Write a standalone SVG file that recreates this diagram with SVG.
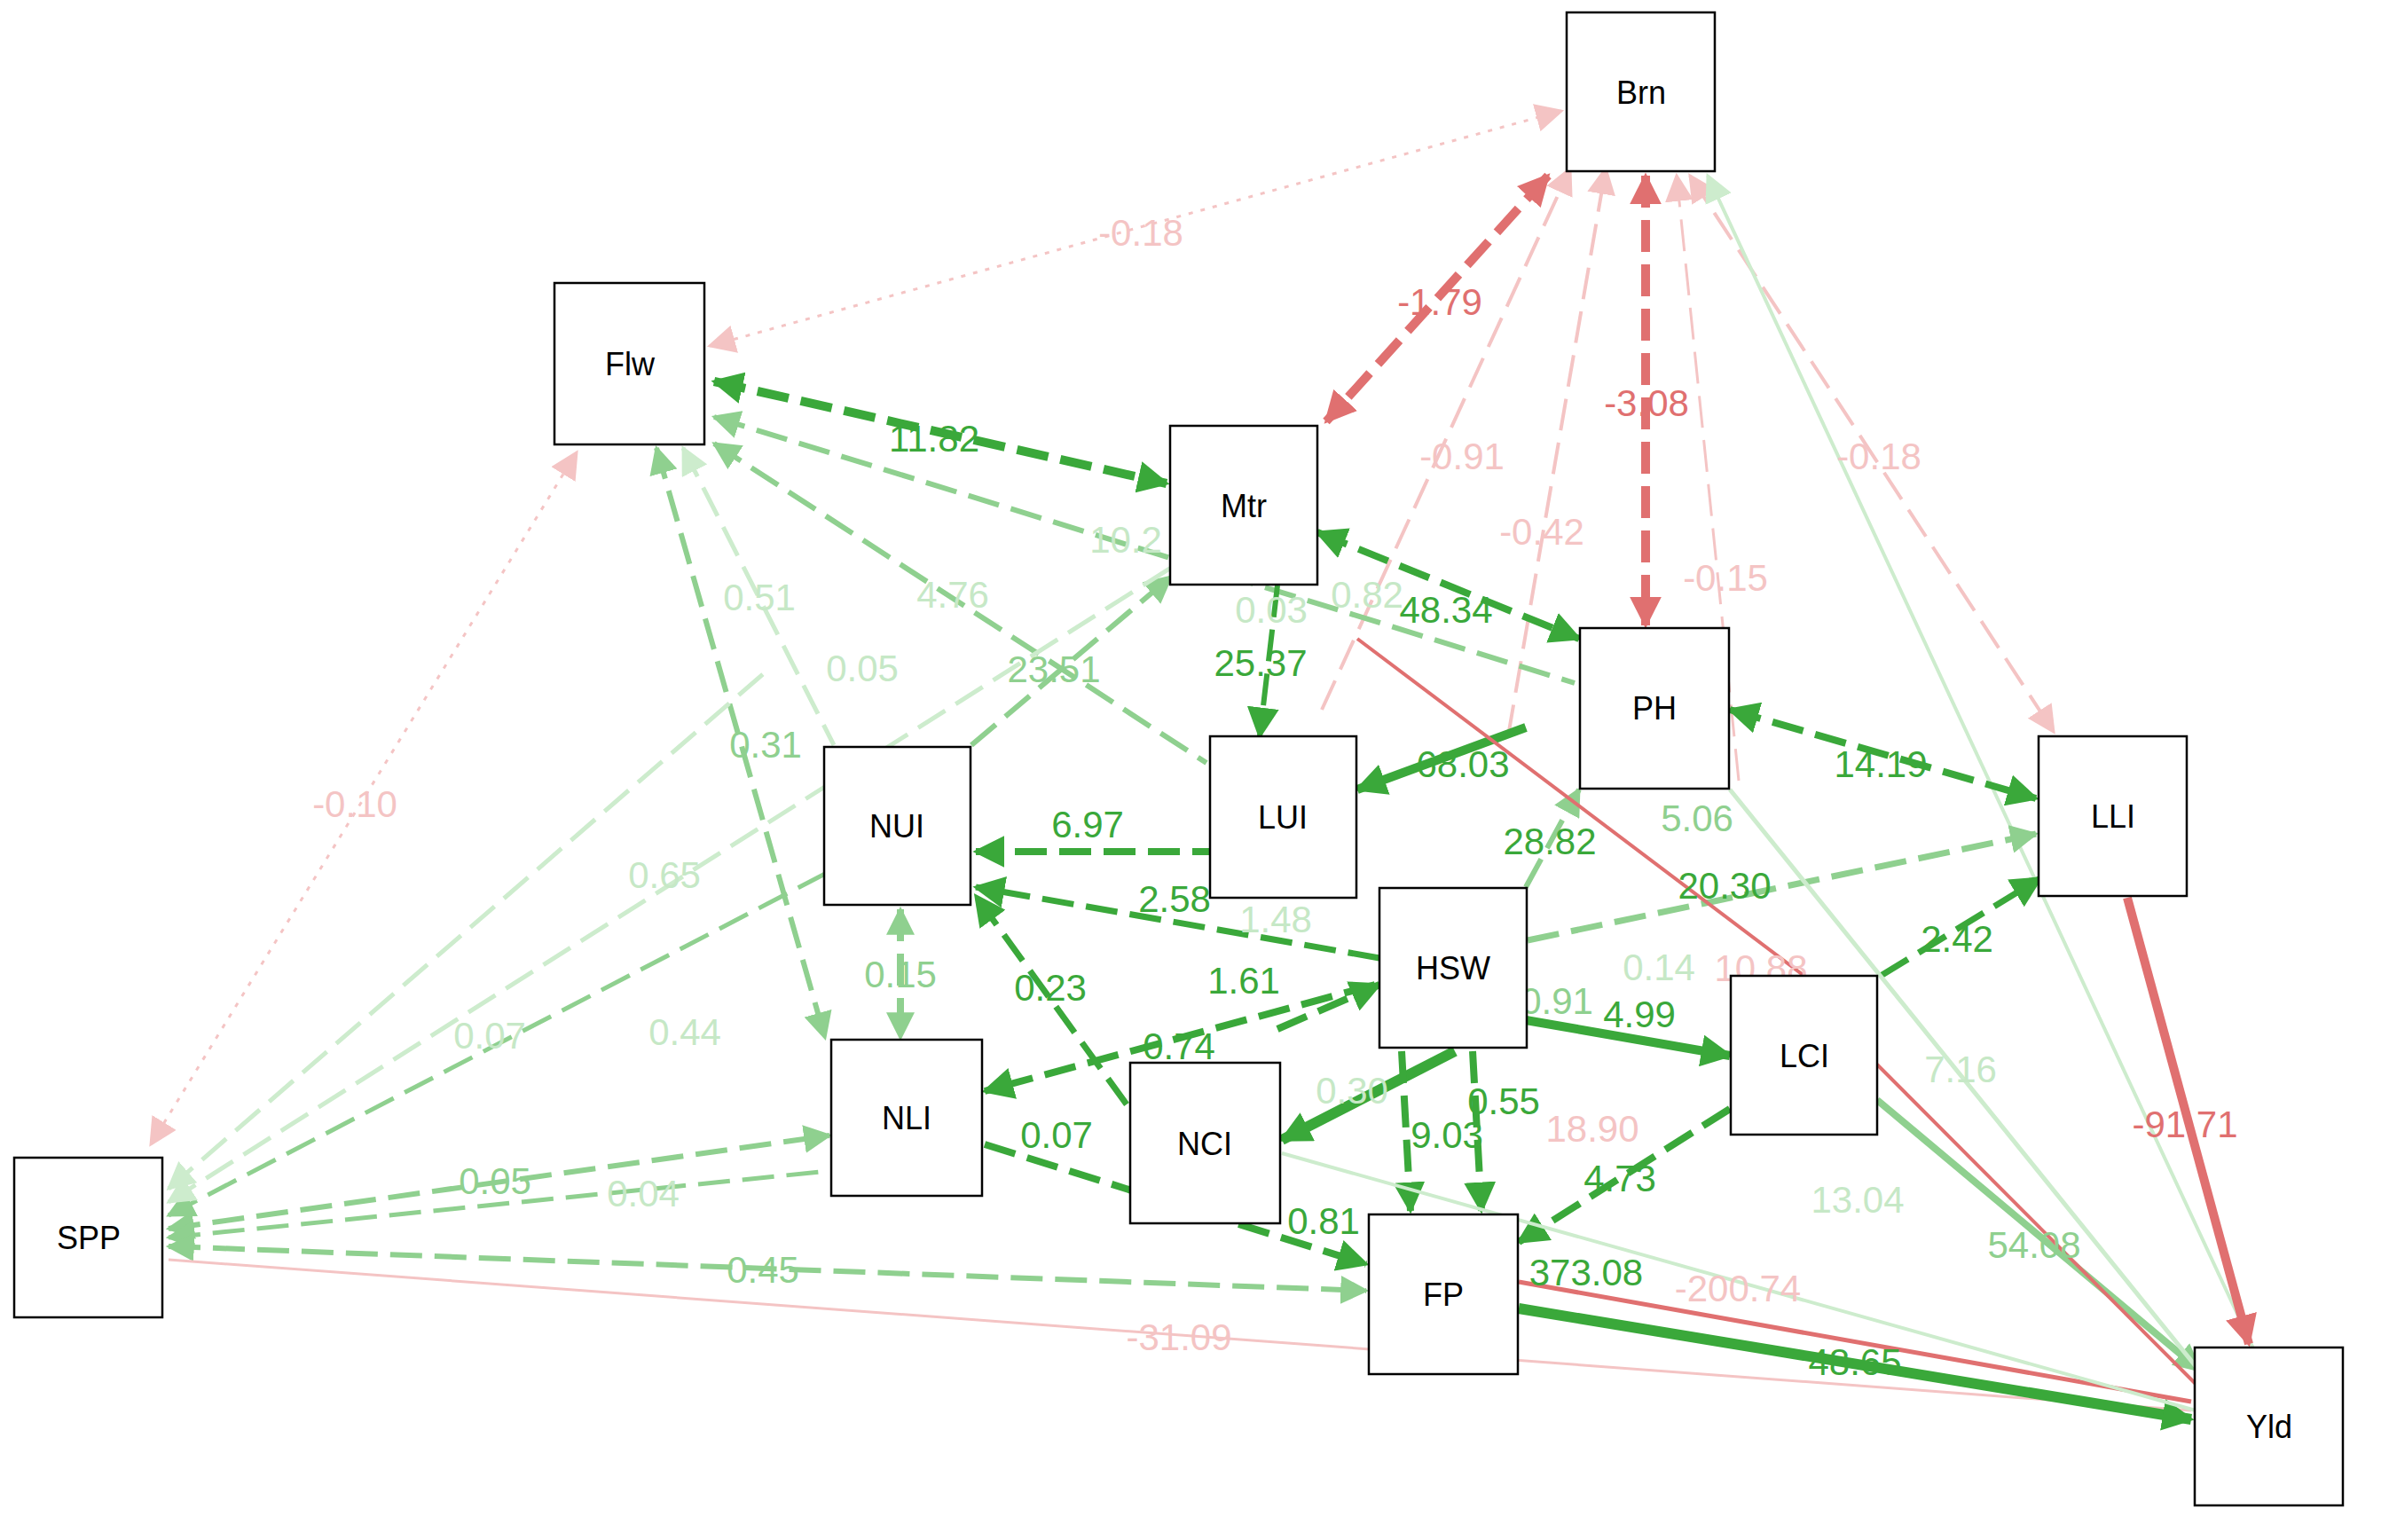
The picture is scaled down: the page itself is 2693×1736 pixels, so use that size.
<svg xmlns="http://www.w3.org/2000/svg" width="2693" height="1736" viewBox="0 0 2693 1736">
<style>
.n rect{fill:#fff;stroke:#000;stroke-width:2.5}
.n text{font-family:"Liberation Sans",Arial,sans-serif;font-size:36px;text-anchor:middle;dominant-baseline:central;fill:#000}
.e line{fill:none}
.g{stroke:#3aa83a}.g2{stroke:#8fd08f}.g3{stroke:#cdeccd}
.r{stroke:#e07070}.p{stroke:#f4c4c4}
.d{stroke-dasharray:36 14}.t{stroke-dasharray:5 9}
.l text{font-family:"Liberation Sans",Arial,sans-serif;font-size:42px;text-anchor:middle;dominant-baseline:central}
.lg{fill:#3aa83a}.lg2{fill:#8fd08f}.lg3{fill:#c6e8c6}.lr{fill:#e07070}.lp{fill:#f4c4c4}
</style>
<defs>
<marker id="ag" viewBox="0 0 10 10" refX="9" refY="5" markerWidth="36" markerHeight="36" markerUnits="userSpaceOnUse" orient="auto-start-reverse"><path d="M0,0L10,5L0,10z" fill="#3aa83a"/></marker>
<marker id="ag2" viewBox="0 0 10 10" refX="9" refY="5" markerWidth="32" markerHeight="32" markerUnits="userSpaceOnUse" orient="auto-start-reverse"><path d="M0,0L10,5L0,10z" fill="#8fd08f"/></marker>
<marker id="ag3" viewBox="0 0 10 10" refX="9" refY="5" markerWidth="32" markerHeight="32" markerUnits="userSpaceOnUse" orient="auto-start-reverse"><path d="M0,0L10,5L0,10z" fill="#cdeccd"/></marker>
<marker id="ar" viewBox="0 0 10 10" refX="9" refY="5" markerWidth="36" markerHeight="36" markerUnits="userSpaceOnUse" orient="auto-start-reverse"><path d="M0,0L10,5L0,10z" fill="#e07070"/></marker>
<marker id="ap" viewBox="0 0 10 10" refX="9" refY="5" markerWidth="32" markerHeight="32" markerUnits="userSpaceOnUse" orient="auto-start-reverse"><path d="M0,0L10,5L0,10z" fill="#f4c4c4"/></marker>
</defs>
<rect width="2693" height="1736" fill="#fff"/>
<g id="connectors" class="e">
<line class="p t" x1="800" y1="390" x2="1760" y2="125" stroke-width="3" marker-start="url(#ap)" marker-end="url(#ap)"/>
<line class="p t" x1="170" y1="1290" x2="650" y2="510" stroke-width="3" marker-start="url(#ap)" marker-end="url(#ap)"/>
<line class="r d" x1="1745" y1="198" x2="1495" y2="475" stroke-width="10" marker-start="url(#ar)" marker-end="url(#ar)"/>
<line class="r d" x1="1855" y1="198" x2="1855" y2="705" stroke-width="10" marker-start="url(#ar)" marker-end="url(#ar)"/>
<line class="p d" x1="1905" y1="198" x2="2315" y2="825" stroke-width="4" marker-start="url(#ap)" marker-end="url(#ap)"/>
<line class="p d" x1="1490" y1="800" x2="1770" y2="190" stroke-width="4" marker-end="url(#ap)"/>
<line class="p d" x1="1700" y1="830" x2="1810" y2="190" stroke-width="4" marker-end="url(#ap)"/>
<line class="p d" x1="1960" y1="880" x2="1890" y2="198" stroke-width="3" marker-end="url(#ap)"/>
<line class="g3" x1="2540" y1="1520" x2="1925" y2="198" stroke-width="4" marker-end="url(#ag3)"/>
<line class="g d" x1="805" y1="430" x2="1315" y2="545" stroke-width="10" marker-start="url(#ag)" marker-end="url(#ag)"/>
<line class="g2 d" x1="805" y1="470" x2="1775" y2="770" stroke-width="6" marker-start="url(#ag2)"/>
<line class="g2 d" x1="805" y1="500" x2="1360" y2="860" stroke-width="6" marker-start="url(#ag2)"/>
<line class="g2 d" x1="740" y1="505" x2="930" y2="1170" stroke-width="6" marker-start="url(#ag2)" marker-end="url(#ag2)"/>
<line class="g3 d" x1="770" y1="505" x2="940" y2="840" stroke-width="5" marker-start="url(#ag3)"/>
<line class="g2 d" x1="1095" y1="840" x2="1320" y2="650" stroke-width="6" marker-end="url(#ag2)"/>
<line class="g d" x1="1440" y1="660" x2="1420" y2="830" stroke-width="6" marker-end="url(#ag)"/>
<line class="g d" x1="1485" y1="600" x2="1780" y2="720" stroke-width="8" marker-start="url(#ag)" marker-end="url(#ag)"/>
<line class="g" x1="1720" y1="820" x2="1530" y2="890" stroke-width="10" marker-end="url(#ag)"/>
<line class="g d" x1="1950" y1="800" x2="2295" y2="900" stroke-width="8" marker-start="url(#ag)" marker-end="url(#ag)"/>
<line class="g2 d" x1="1722" y1="1060" x2="2295" y2="940" stroke-width="7" marker-end="url(#ag2)"/>
<line class="g2 d" x1="1720" y1="1000" x2="1780" y2="890" stroke-width="6" marker-end="url(#ag2)"/>
<line class="g d" x1="2120" y1="1100" x2="2300" y2="990" stroke-width="7" marker-end="url(#ag)"/>
<line class="g" x1="1720" y1="1150" x2="1950" y2="1190" stroke-width="10" marker-end="url(#ag)"/>
<line class="g d" x1="1530" y1="960" x2="1100" y2="960" stroke-width="8" marker-end="url(#ag)"/>
<line class="g d" x1="1555" y1="1080" x2="1100" y2="1000" stroke-width="7" marker-end="url(#ag)"/>
<line class="g d" x1="1550" y1="1110" x2="1110" y2="1230" stroke-width="8" marker-end="url(#ag)"/>
<line class="g d" x1="1270" y1="1245" x2="1100" y2="1010" stroke-width="7" marker-end="url(#ag)"/>
<line class="g d" x1="1440" y1="1160" x2="1555" y2="1110" stroke-width="8" marker-end="url(#ag)"/>
<line class="g" x1="1640" y1="1185" x2="1445" y2="1285" stroke-width="12" marker-end="url(#ag)"/>
<line class="g d" x1="1580" y1="1185" x2="1590" y2="1365" stroke-width="8" marker-end="url(#ag)"/>
<line class="g d" x1="1660" y1="1185" x2="1670" y2="1365" stroke-width="8" marker-end="url(#ag)"/>
<line class="g d" x1="1950" y1="1250" x2="1712" y2="1400" stroke-width="8" marker-end="url(#ag)"/>
<line class="g d" x1="1110" y1="1290" x2="1540" y2="1425" stroke-width="8" marker-end="url(#ag)"/>
<line class="g2 d" x1="1015" y1="1025" x2="1015" y2="1170" stroke-width="8" marker-start="url(#ag2)" marker-end="url(#ag2)"/>
<line class="g2 d" x1="190" y1="1385" x2="935" y2="1280" stroke-width="6" marker-start="url(#ag2)" marker-end="url(#ag2)"/>
<line class="g2 d" x1="190" y1="1370" x2="930" y2="985" stroke-width="5" marker-start="url(#ag2)"/>
<line class="g3 d" x1="190" y1="1355" x2="1320" y2="640" stroke-width="5" marker-start="url(#ag3)"/>
<line class="g3 d" x1="190" y1="1340" x2="860" y2="760" stroke-width="5" marker-start="url(#ag3)"/>
<line class="g2 d" x1="190" y1="1395" x2="935" y2="1320" stroke-width="5" marker-start="url(#ag2)"/>
<line class="g2 d" x1="190" y1="1405" x2="1540" y2="1455" stroke-width="6" marker-start="url(#ag2)" marker-end="url(#ag2)"/>
<line class="p" x1="190" y1="1420" x2="2470" y2="1590" stroke-width="3"/>
<line class="g" x1="1712" y1="1475" x2="2470" y2="1600" stroke-width="12" marker-end="url(#ag)"/>
<line class="r" x1="1712" y1="1445" x2="2470" y2="1580" stroke-width="5"/>
<line class="r" x1="2398" y1="1012" x2="2535" y2="1515" stroke-width="10" marker-end="url(#ar)"/>
<line class="g2" x1="2116" y1="1240" x2="2480" y2="1545" stroke-width="8" marker-end="url(#ag2)"/>
<line class="r" x1="2116" y1="1200" x2="2475" y2="1560" stroke-width="4"/>
<line class="g3" x1="1950" y1="890" x2="2475" y2="1540" stroke-width="5"/>
<line class="g3" x1="1445" y1="1300" x2="2475" y2="1590" stroke-width="4"/>
<line class="r" x1="1530" y1="720" x2="2100" y2="1150" stroke-width="4"/>
</g>
<g class="l">
<text x="1286" y="262" class="lp">-0.18</text>
<text x="400" y="906" class="lp">-0.10</text>
<text x="1623" y="340" class="lr">-1.79</text>
<text x="1856" y="454" class="lr">-3.08</text>
<text x="2118" y="514" class="lp">-0.18</text>
<text x="1648" y="514" class="lp">-0.91</text>
<text x="1738" y="599" class="lp">-0.42</text>
<text x="1945" y="651" class="lp">-0.15</text>
<text x="1053" y="494" class="lg">11.82</text>
<text x="1269" y="608" class="lg3">10.2</text>
<text x="1074" y="670" class="lg3">4.76</text>
<text x="856" y="673" class="lg3">0.51</text>
<text x="972" y="753" class="lg3">0.05</text>
<text x="1188" y="754" class="lg2">23.51</text>
<text x="863" y="839" class="lg2">0.31</text>
<text x="749" y="986" class="lg3">0.65</text>
<text x="552" y="1167" class="lg3">0.07</text>
<text x="772" y="1163" class="lg3">0.44</text>
<text x="558" y="1331" class="lg2">0.05</text>
<text x="725" y="1345" class="lg3">0.04</text>
<text x="860" y="1431" class="lg2">0.45</text>
<text x="1329" y="1507" class="lp">-31.09</text>
<text x="1015" y="1098" class="lg2">0.15</text>
<text x="1184" y="1113" class="lg">0.23</text>
<text x="1191" y="1279" class="lg">0.07</text>
<text x="1226" y="929" class="lg">6.97</text>
<text x="1421" y="747" class="lg">25.37</text>
<text x="1433" y="687" class="lg3">0.03</text>
<text x="1541" y="670" class="lg3">0.82</text>
<text x="1630" y="687" class="lg">48.34</text>
<text x="1649" y="861" class="lg">68.03</text>
<text x="2120" y="861" class="lg">14.19</text>
<text x="1913" y="922" class="lg2">5.06</text>
<text x="1747" y="948" class="lg">28.82</text>
<text x="1944" y="998" class="lg">20.30</text>
<text x="1324" y="1013" class="lg">2.58</text>
<text x="1402" y="1105" class="lg">1.61</text>
<text x="2206" y="1058" class="lg">2.42</text>
<text x="1848" y="1143" class="lg">4.99</text>
<text x="1985" y="1091" class="lp">10.88</text>
<text x="1695" y="1241" class="lg">0.55</text>
<text x="1631" y="1279" class="lg">9.03</text>
<text x="1826" y="1328" class="lg">4.73</text>
<text x="1492" y="1376" class="lg">0.81</text>
<text x="1788" y="1434" class="lg">373.08</text>
<text x="1959" y="1452" class="lp">-200.74</text>
<text x="2091" y="1535" class="lg">48.65</text>
<text x="2293" y="1403" class="lg2">54.08</text>
<text x="2094" y="1352" class="lg3">13.04</text>
<text x="2210" y="1205" class="lg3">7.16</text>
<text x="2463" y="1267" class="lr">-91.71</text>
<text x="1329" y="1179" class="lg">0.74</text>
<text x="1524" y="1229" class="lg3">0.30</text>
<text x="1795" y="1272" class="lp">18.90</text>
<text x="1438" y="1036" class="lg3">1.48</text>
<text x="1870" y="1090" class="lg3">0.14</text>
<text x="1755" y="1128" class="lg2">0.91</text>
</g>
<g id="Brn" class="n"><rect x="1766" y="14" width="167" height="179"/><text x="1850" y="104">Brn</text></g>
<g id="Flw" class="n"><rect x="625" y="319" width="169" height="182"/><text x="710" y="410">Flw</text></g>
<g id="Mtr" class="n"><rect x="1319" y="480" width="166" height="179"/><text x="1402" y="570">Mtr</text></g>
<g id="PH" class="n"><rect x="1781" y="708" width="168" height="181"/><text x="1865" y="798">PH</text></g>
<g id="LLI" class="n"><rect x="2298" y="830" width="167" height="180"/><text x="2382" y="920">LLI</text></g>
<g id="NUI" class="n"><rect x="929" y="842" width="165" height="178"/><text x="1011" y="931">NUI</text></g>
<g id="LUI" class="n"><rect x="1364" y="830" width="165" height="182"/><text x="1446" y="921">LUI</text></g>
<g id="HSW" class="n"><rect x="1555" y="1001" width="166" height="180"/><text x="1638" y="1091">HSW</text></g>
<g id="LCI" class="n"><rect x="1951" y="1100" width="165" height="179"/><text x="2034" y="1190">LCI</text></g>
<g id="NLI" class="n"><rect x="937" y="1172" width="170" height="176"/><text x="1022" y="1260">NLI</text></g>
<g id="NCI" class="n"><rect x="1274" y="1198" width="169" height="181"/><text x="1358" y="1289">NCI</text></g>
<g id="FP" class="n"><rect x="1543" y="1369" width="168" height="180"/><text x="1627" y="1459">FP</text></g>
<g id="SPP" class="n"><rect x="16" y="1305" width="167" height="180"/><text x="100" y="1395">SPP</text></g>
<g id="Yld" class="n"><rect x="2474" y="1519" width="167" height="178"/><text x="2558" y="1608">Yld</text></g>
</svg>
